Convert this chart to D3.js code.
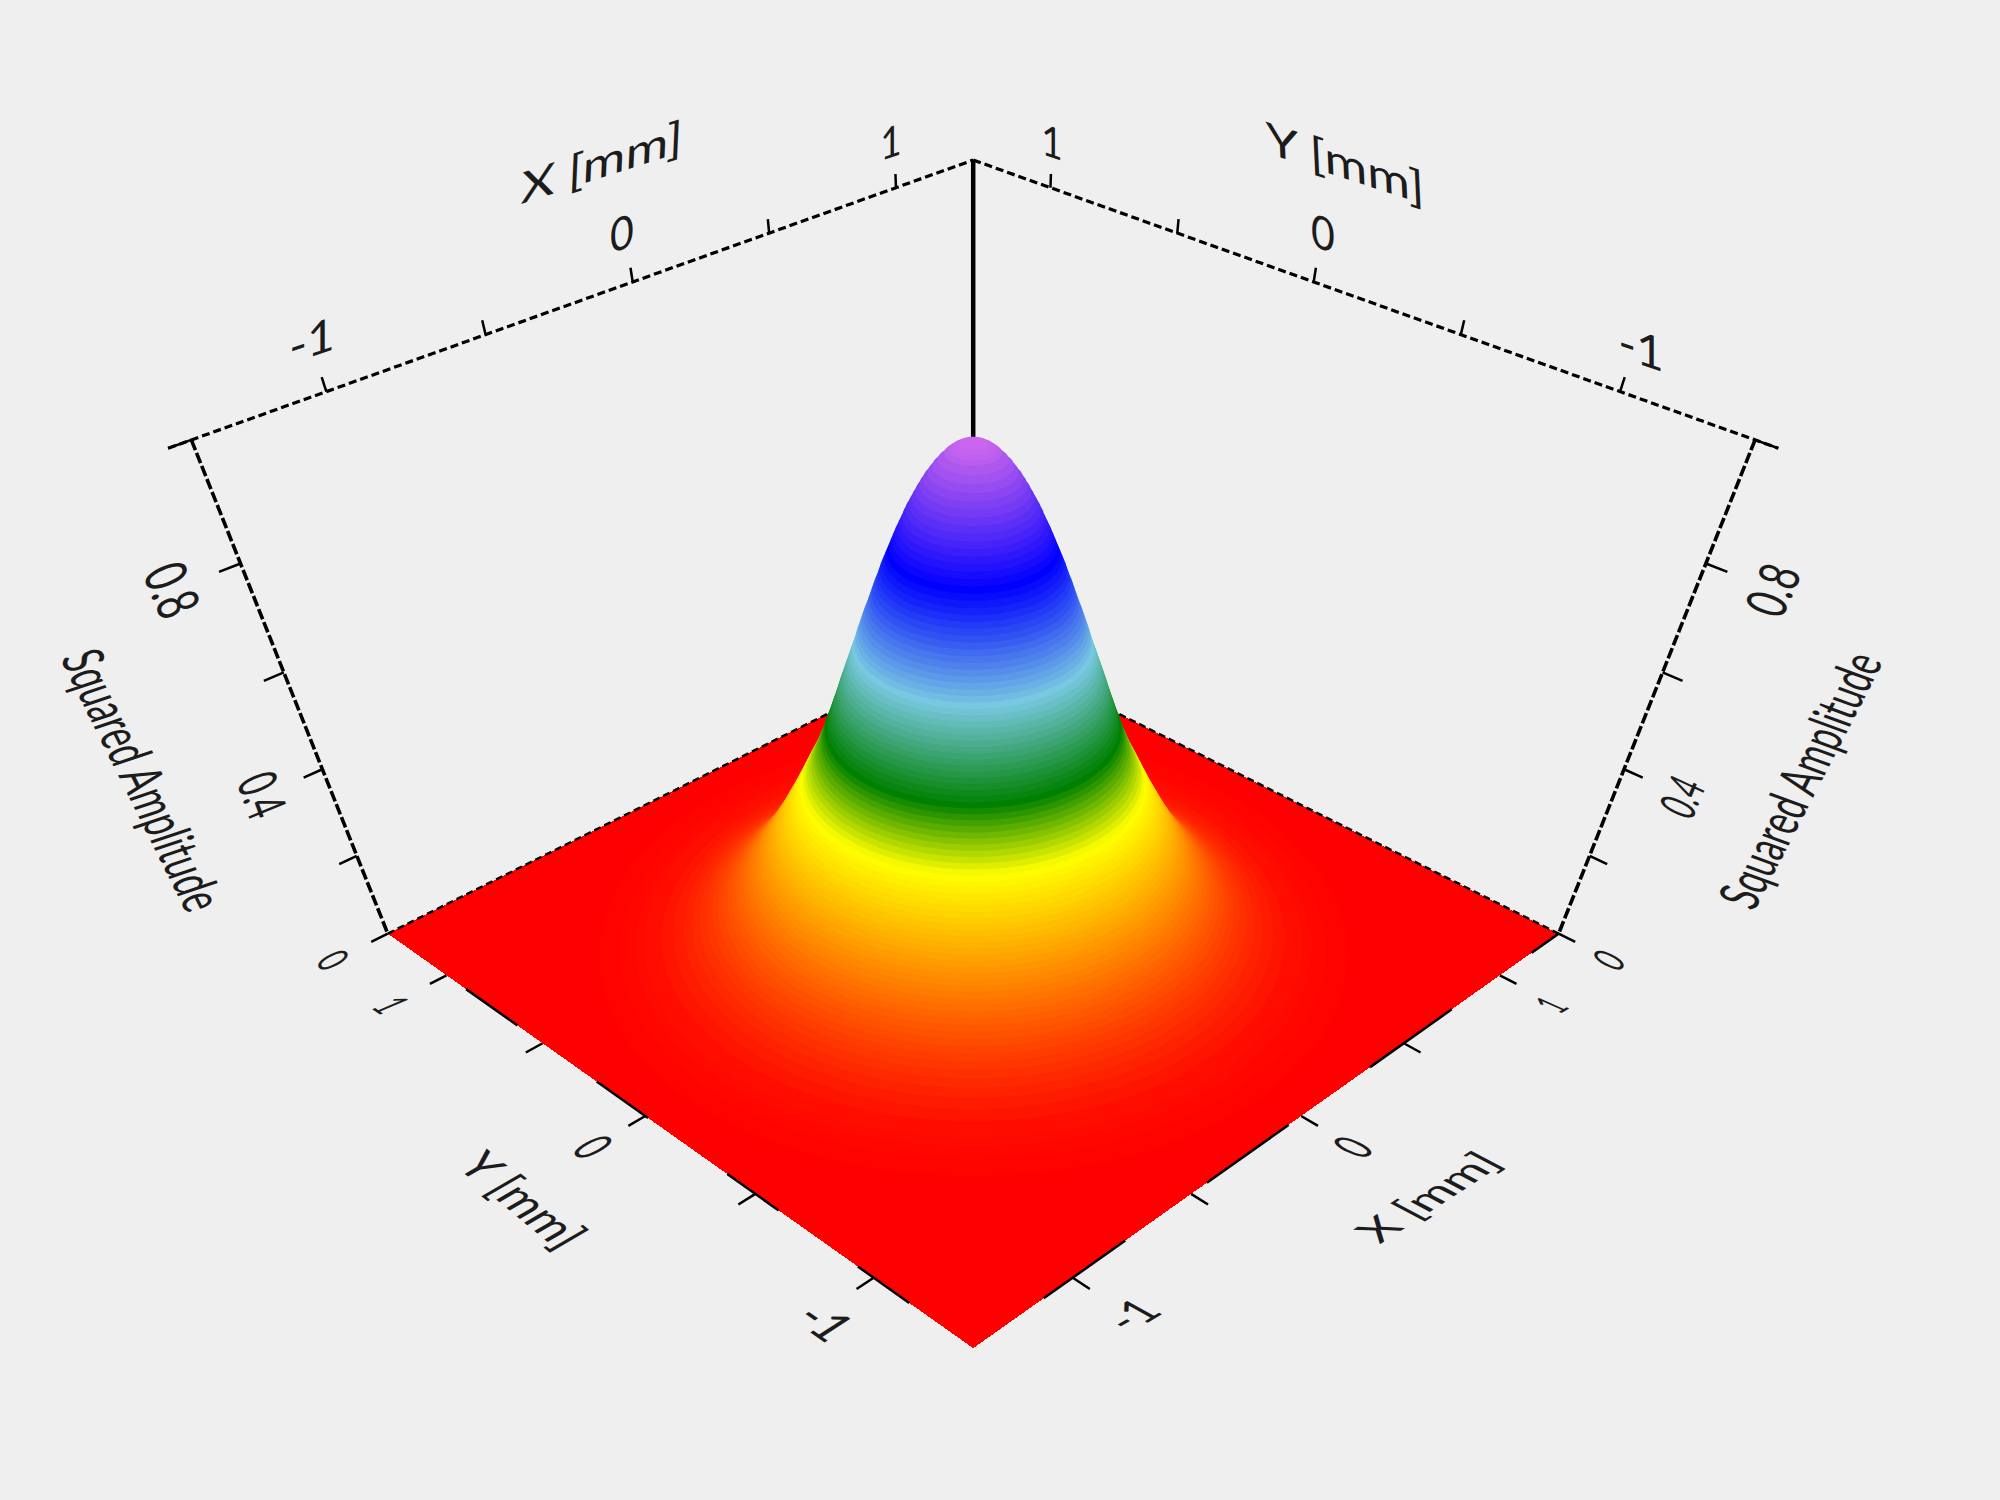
<!DOCTYPE html>
<html><head><meta charset="utf-8">
<script src="https://d3js.org/d3.v7.min.js"></script>
<style>html,body{margin:0;padding:0;background:#efefef}svg{display:block}text{font-family:Lato,"Open Sans",sans-serif;fill:#1c1c1c;text-rendering:geometricPrecision}</style>
</head><body><svg id="c" width="2000" height="1500"></svg>
<script>
// ---- data ----
const xTicks=[-1,-0.5,0,0.5,1];
const yTicks=[-1,-0.5,0,0.5,1];
const zTicks=[0,0.2,0.4,0.6,0.8,1];
const xDomain=[-1.394,1.323];
const yDomain=[-1.394,1.323];
const zDomain=[0,1];
const peakCentre=[-0.035,-0.035];
const profileZ=[0.005,0.01,0.015,0.02,0.03,0.04,0.05,0.06,0.07,0.08,0.09,0.10,0.11,0.12,0.13,0.14,0.15,0.16,0.17,0.18,0.19,0.20,0.21,0.22,0.23,0.24,0.25,0.26,0.27,0.28,0.29,0.30,0.31,0.32,0.33,0.34,0.35,0.36,0.37,0.38,0.39,0.40,0.41,0.42,0.43,0.44,0.45,0.46,0.47,0.48,0.49,0.50,0.51,0.52,0.53,0.54,0.55,0.56,0.57,0.58,0.59,0.60,0.61,0.62,0.63,0.64,0.65,0.66,0.67,0.68,0.69,0.70,0.71,0.72,0.73,0.74,0.75,0.76,0.77,0.78,0.79,0.80,0.81,0.82,0.83,0.84,0.85,0.86,0.87,0.88,0.89,0.90,0.91,0.92,0.93,0.94,0.95,0.96,0.97,0.98,0.985,0.99,0.995];
const profileR=[1.22,1.15,1.10,1.07,1.01,0.97,0.935,0.905,0.879,0.855,0.835,0.815,0.797,0.780,0.765,0.750,0.736,0.722,0.709,0.697,0.685,0.674,0.663,0.652,0.642,0.632,0.622,0.612,0.603,0.594,0.585,0.576,0.567,0.558,0.549,0.541,0.533,0.524,0.516,0.508,0.500,0.492,0.483,0.475,0.467,0.460,0.453,0.445,0.439,0.433,0.427,0.420,0.414,0.408,0.402,0.396,0.390,0.384,0.379,0.373,0.367,0.361,0.355,0.349,0.343,0.337,0.331,0.325,0.320,0.314,0.308,0.302,0.296,0.289,0.283,0.277,0.271,0.265,0.258,0.252,0.246,0.239,0.232,0.225,0.218,0.211,0.204,0.196,0.188,0.181,0.173,0.164,0.155,0.146,0.136,0.126,0.114,0.102,0.088,0.072,0.062,0.051,0.036];
const colourLevels=[0,0.375,0.49,0.65,0.82,1];
const colourValues=["#ff0000","#ffff00","#008000","#78c8e1","#0000ff","#d069ec"];
const axisTitleX="X [mm]",axisTitleY="Y [mm]",axisTitleZ="Squared Amplitude";

// ---- label layout: centre, px-per-em along baseline, px-per-em up ----
const labelLayout=[
 ["-1",312,340,[48,-16],[0,-46]],["0",622,233,[41,-14],[0,-46]],["1",891,142,[37,-13],[0,-43]],[axisTitleX,602,162,[52,-17],[2,-44]],
 ["1",1052,142,[37,13],[0,-43]],["0",1323,233,[41,14],[0,-46]],["-1",1641,348,[48,16],[0,-46]],[axisTitleY,1345,163,[52,17],[-2,-44]],
 ["0.8",172,590,[14.4,34.8],[55,-23]],["0.4",262,795,[10.3,28.7],[51,-21]],["0",333,960,[11,22],[39,-19.5]],[axisTitleZ,143,780,[15.2,30.7],[54,-18]],
 ["0.8",1773,590,[15,-34],[-53,-18]],["0.4",1682,797,[10.3,-24.7],[-46,-21]],["0",1609,960,[11,-22],[-39,-19.5]],[axisTitleZ,1800,780,[15.5,-30],[-52,-19]],
 ["1",391,1005,[20,14],[43,-18]],["0",593,1147,[24,18],[46,-25]],["-1",825,1322,[37,26],[43,-28]],[axisTitleY,523,1200,[34,28],[43,-25]],
 ["1",1551,1005,[20,-12],[-38,-17]],["0",1353,1147,[24,-18],[-46,-22]],["-1",1132,1315,[37,-22],[-41,-23]],[axisTitleX,1428,1197,[40,-26],[-38,-20]]
];

// ---- camera: projective map of the unit box to the page ----
const cam={cx:973.2,a:707.5,b:-219.9,c:-730.2,d:1348.2,e:0.2085,f:-0.3036};
const unit=[0,1];
const xScale=d3.scaleLinear().domain(xDomain).range(unit);
const yScale=d3.scaleLinear().domain(yDomain).range(unit);
const zScale=d3.scaleLinear().domain(zDomain).range(unit);
function proj(u,v,w){const D=1+cam.e*(u+v)+cam.f*w;return [cam.cx+cam.a*(u-v)/D,(cam.b*(u+v)+cam.c*w+cam.d)/D];}
const colour=d3.scaleLinear().domain(colourLevels).range(colourValues).interpolate(d3.interpolateRgb).clamp(true);
const line=d3.line();
const svg=d3.select("#c");
svg.append("rect").attr("width",2000).attr("height",1500).attr("fill","#efefef");

function seg(g,p,q,w,dash,off){const s=g.append("path").attr("d",line([p,q])).attr("stroke","#000").attr("stroke-width",w).attr("fill","none");if(dash)s.attr("stroke-dasharray",dash);if(off!=null)s.attr("stroke-dashoffset",off);return s;}
const TICK=0.024,TICKUP=0.022;

// back frame
const back=svg.append("g");
seg(back,proj(-TICK,1,1),proj(1,1,1),3.2,"8 4");
seg(back,proj(1,1,1),proj(1,-TICK,1),3.2,"8 4");
seg(back,proj(0,1,1),proj(0,1,0),3.6,"11 3");
seg(back,proj(1,0,1),proj(1,0,0),3.6,"11 3");
seg(back,proj(1,1,1),proj(1,1,0),4.5);
xTicks.forEach(t=>{const u=xScale(t);seg(back,proj(u,1,1),proj(u,1,1+TICKUP),2.5);});
yTicks.forEach(t=>{const v=yScale(t);seg(back,proj(1,v,1),proj(1,v,1+TICKUP),2.5);});
zTicks.forEach(t=>{const w=zScale(t);seg(back,proj(0,1,w),proj(-TICK,1,w),2.5);seg(back,proj(1,0,w),proj(1,-TICK,w),2.5);});

// floor
svg.append("path").attr("d",line([proj(0,0,0),proj(1,0,0),proj(1,1,0),proj(0,1,0)])+"Z").attr("fill",colour(0)).attr("shape-rendering","crispEdges");
const edge=svg.append("g");
seg(edge,proj(0,1,0),proj(1,1,0),2.5,"7 4");
seg(edge,proj(1,0,0),proj(1,1,0),2.5,"7 4");
seg(edge,proj(0,1,0),proj(0,0,0),2.5,"63 97",-96);
seg(edge,proj(1,0,0),proj(0,0,0),2.5,"33 98 100 100 100 100 100 100");

// surface: nested level discs, outermost first
const thetas=d3.range(0,2*Math.PI,Math.PI/72);
const surface=svg.append("g");
surface.selectAll("path").data(d3.range(profileZ.length)).join("path")
 .attr("d",i=>{const w=zScale(profileZ[i]),r=profileR[i];
   return line(thetas.map(t=>proj(xScale(peakCentre[0]+r*Math.cos(t)),yScale(peakCentre[1]+r*Math.sin(t)),w)))+"Z";})
 .attr("fill",i=>colour(profileZ[i]));

// floor ticks
const front=svg.append("g");
xTicks.forEach(t=>{const u=xScale(t);seg(front,proj(u,0,0),proj(u,-TICK,0),2.5);});
yTicks.forEach(t=>{const v=yScale(t);seg(front,proj(0,v,0),proj(-TICK,v,0),2.5);});

// labels
const FS=40;
svg.append("g").selectAll("text").data(labelLayout).join("text")
 .attr("font-size",FS).attr("text-anchor","middle").attr("y",FS*0.36)
 .attr("transform",d=>`matrix(${d[3][0]/FS},${d[3][1]/FS},${-d[4][0]/FS},${-d[4][1]/FS},${d[1]},${d[2]})`)
 .text(d=>d[0]);
</script></body></html>
